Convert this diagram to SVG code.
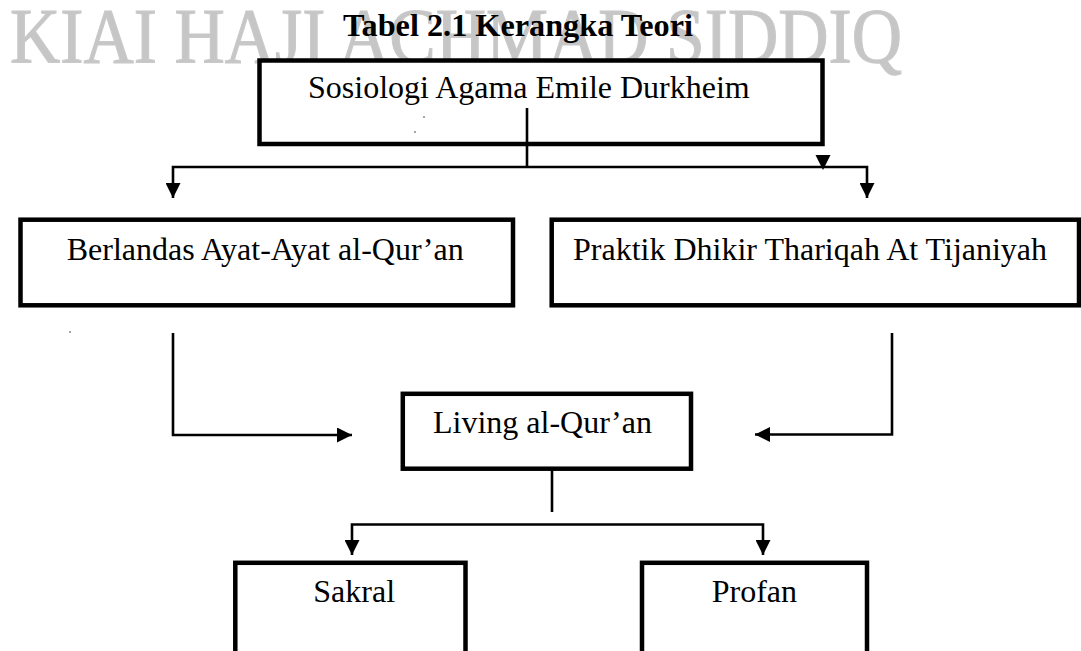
<svg xmlns="http://www.w3.org/2000/svg" width="1081" height="651" viewBox="0 0 1081 651">
  <style>
    .box { fill: #ffffff; stroke: #000000; stroke-width: 4.5; }
    .lbl { font-family: "Liberation Serif", "Times New Roman", serif; font-size: 32px; fill: #000000; }
    .conn { fill: none; stroke: #000000; stroke-width: 2.6; }
    .wm { font-family: "Liberation Serif", "Times New Roman", serif; font-size: 78px; fill: #c6c6c6; stroke: #c9c9c9; stroke-width: 1.2; }
    .title { font-family: "Liberation Serif", "Times New Roman", serif; font-size: 31.5px; font-weight: bold; fill: #000000; }
  </style>
  <defs>
    <marker id="arrow" viewBox="0 0 15 15" refX="15" refY="7.5" markerWidth="15" markerHeight="15" markerUnits="userSpaceOnUse" orient="auto">
      <path d="M0,0 L15,7.5 L0,15 z" fill="#000000"/>
    </marker>
  </defs>
  <rect x="0" y="0" width="1081" height="651" fill="#ffffff"/>

  <text class="wm" x="10" y="62" textLength="892" lengthAdjust="spacingAndGlyphs">KIAI HAJI ACHMAD SIDDIQ</text>
  <text class="title" x="343" y="36" textLength="350" lengthAdjust="spacingAndGlyphs">Tabel 2.1 Kerangka Teori</text>

  <g id="n-sosiologi">
    <rect class="box" x="259.5" y="60.5" width="563" height="83.5"/>
    <text class="lbl" x="308" y="98">Sosiologi Agama Emile Durkheim</text>
  </g>
  <g id="n-berlandas">
    <rect class="box" x="20.5" y="219.7" width="492.5" height="85.6"/>
    <text class="lbl" x="66.7" y="260">Berlandas Ayat-Ayat al-Qur’an</text>
  </g>
  <g id="n-praktik">
    <rect class="box" x="551.7" y="219.7" width="527.3" height="85.6"/>
    <text class="lbl" x="573" y="260">Praktik Dhikir Thariqah At Tijaniyah</text>
  </g>
  <g id="n-living">
    <rect class="box" x="402.8" y="393.8" width="288.2" height="74.9"/>
    <text class="lbl" x="433" y="433">Living al-Qur’an</text>
  </g>
  <g id="n-sakral">
    <rect class="box" x="235.3" y="562.8" width="230.2" height="110"/>
    <text class="lbl" x="313.3" y="602">Sakral</text>
  </g>
  <g id="n-profan">
    <rect class="box" x="642" y="562.8" width="225" height="110"/>
    <text class="lbl" x="711.7" y="602">Profan</text>
  </g>

  <g id="connectors">
    <path class="conn" d="M527,108 V167"/>
    <path class="conn" d="M527,167 H173 V198" marker-end="url(#arrow)"/>
    <path class="conn" d="M527,167 H867 V198" marker-end="url(#arrow)"/>
    <polygon points="815.5,155 830.5,155 823,170" fill="#000000"/>
    <path class="conn" d="M173,333 V435 H352" marker-end="url(#arrow)"/>
    <path class="conn" d="M892,333 V434.5 H755" marker-end="url(#arrow)"/>
    <path class="conn" d="M552,470 V512"/>
    <path class="conn" d="M552,524.5 H352 V555" marker-end="url(#arrow)"/>
    <path class="conn" d="M552,524.5 H763 V555" marker-end="url(#arrow)"/>
  </g>

  <g id="specks" fill="#333333">
    <circle cx="424" cy="117" r="0.8"/>
    <circle cx="415" cy="132" r="0.8"/>
    <circle cx="70" cy="332" r="0.8"/>
  </g>
</svg>
